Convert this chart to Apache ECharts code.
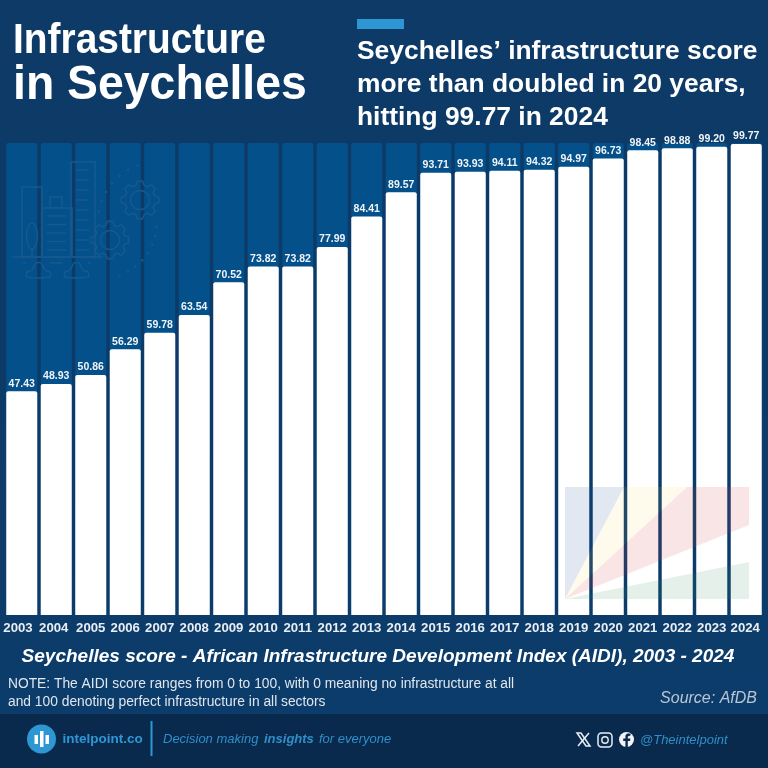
<!DOCTYPE html>
<html>
<head>
<meta charset="utf-8">
<style>html,body{margin:0;padding:0;background:#0d3a66}#chart{width:768px;height:768px}</style>
<script src="https://cdn.jsdelivr.net/npm/echarts@6/dist/echarts.min.js"></script>
</head>
<body>
<div id="chart"></div>
<script>
var years = ['2003','2004','2005','2006','2007','2008','2009','2010','2011','2012','2013','2014','2015','2016','2017','2018','2019','2020','2021','2022','2023','2024'];
var scores = [47.43,48.93,50.86,56.29,59.78,63.54,70.52,73.82,73.82,77.99,84.41,89.57,93.71,93.93,94.11,94.32,94.97,96.73,98.45,98.88,99.20,99.77];
var FONT = '"Liberation Sans", Arial, sans-serif';
var iconColor = '#16598f';
var myChart = echarts.init(document.getElementById('chart'), null, {renderer: 'canvas'});

function txt(x, y, s, size, weight, color, extra) {
  var st = {text: s, x: 0, y: 0, fontFamily: FONT, fontSize: size, fontWeight: weight, fill: color, textVerticalAlign: 'middle'};
  var el = {type: 'text', x: x, y: y, z: 20, style: st};
  extra = extra || {};
  if (extra.italic) st.fontStyle = 'italic';
  if (extra.align) st.textAlign = extra.align;
  if (extra.scaleX) el.scaleX = extra.scaleX;
  return el;
}
function poly(points, fill, op) {
  return {type: 'polygon', z: 10, shape: {points: points}, style: {fill: fill, opacity: op}};
}
function line(x1, y1, x2, y2) {
  return {type: 'line', z: 5, shape: {x1: x1, y1: y1, x2: x2, y2: y2}, style: {stroke: iconColor, lineWidth: 1.5}};
}
function box(x, y, w, h) {
  return {type: 'rect', z: 5, shape: {x: x, y: y, width: w, height: h}, style: {fill: 'none', stroke: iconColor, lineWidth: 1.5}};
}
function car(x) {
  return {type: 'polygon', z: 5, shape: {points: [[x,277],[x,272],[x+5,270],[x+9,263],[x+14,263],[x+18,270],[x+23,272],[x+23,277]], smooth: 0.3}, style: {fill: 'none', stroke: iconColor, lineWidth: 1.5}};
}
function gear(cx, cy, r) {
  var pts = [];
  for (var i = 0; i < 8; i++) {
    var a = i * Math.PI / 4;
    [-0.28, -0.14, 0.14, 0.28].forEach(function (d, k) {
      var rr = (k === 0 || k === 3) ? r * 0.8 : r;
      pts.push([cx + rr * Math.cos(a + d), cy + rr * Math.sin(a + d)]);
    });
  }
  return [
    {type: 'polygon', z: 5, shape: {points: pts}, style: {fill: 'none', stroke: iconColor, lineWidth: 1.5}},
    {type: 'circle', z: 5, shape: {cx: cx, cy: cy, r: r * 0.5}, style: {fill: 'none', stroke: iconColor, lineWidth: 1.5}}
  ];
}
function dots(cx, cy, r, from, to, n) {
  var out = [];
  for (var i = 0; i <= n; i++) {
    var a = (from + (to - from) * i / n) * Math.PI / 180;
    out.push({type: 'circle', z: 5, shape: {cx: cx + r * Math.cos(a), cy: cy + r * Math.sin(a), r: 1.3}, style: {fill: iconColor}});
  }
  return out;
}

// faint city icon behind the tall part of the bars
var icon = [
  box(22, 187, 20, 70), box(42, 208, 30, 49), box(50, 197, 12, 11), box(71, 162, 24, 95),
  line(12, 257, 103, 257),
  {type: 'ellipse', z: 5, shape: {cx: 32, cy: 236, rx: 5.5, ry: 13}, style: {fill: 'none', stroke: iconColor, lineWidth: 1.5}},
  line(32, 249, 32, 257),
  car(27), car(65), line(50, 263, 63, 263), line(23, 263, 26, 263), line(88, 263, 91, 263)
];
[0,1,2,3,4,5,6,7,8].forEach(function (i) { icon.push(line(76, 170 + i * 10, 89, 170 + i * 10)); });
[0,1,2,3,4].forEach(function (i) { icon.push(line(47, 216 + i * 8.5, 66, 216 + i * 8.5)); });
icon = icon.concat(gear(140, 200, 19), gear(110, 240, 19), dots(158, 222, 60, -110, -170, 6), dots(100, 222, 57, 5, 70, 7));

// flag watermark on the last bars
var flag = [
  poly([[565,599],[565,487],[624,487]], '#1f4f8f', 0.13),
  poly([[565,599],[624,487],[687,487]], '#f7d54a', 0.10),
  poly([[565,599],[687,487],[749,487],[749,525]], '#d8383a', 0.13),
  poly([[565,599],[749,562],[749,599]], '#2f8a56', 0.13)
];

var header = [
  txt(13, 41, 'Infrastructure', 42.5, 'bold', '#fff', {scaleX: 0.915}),
  txt(13, 86, 'in Seychelles', 48, 'bold', '#fff', {scaleX: 0.966}),
  {type: 'rect', z: 20, shape: {x: 357, y: 19, width: 47, height: 10}, style: {fill: '#2e97d3'}},
  txt(357, 52, 'Seychelles\u2019 infrastructure score', 25.5, 'bold', '#fff', {scaleX: 1.035}),
  txt(357, 85, 'more than doubled in 20 years,', 25.5, 'bold', '#fff', {scaleX: 1.035}),
  txt(357, 118, 'hitting 99.77 in 2024', 25.5, 'bold', '#fff', {scaleX: 1.035})
];

var bottom = [
  txt(378, 657, 'Seychelles score - African Infrastructure Development Index (AIDI), 2003 - 2024', 19, 'bold', '#fff', {italic: true, align: 'center'}),
  txt(8, 684, 'NOTE: The AIDI score ranges from 0 to 100, with 0 meaning no infrastructure at all', 13.8, 'normal', '#dfe6ee'),
  txt(8, 702, 'and 100 denoting perfect infrastructure in all sectors', 13.8, 'normal', '#dfe6ee'),
  txt(757, 699, 'Source: AfDB', 16, 'normal', '#b9c6d4', {italic: true, align: 'right'}),
  {type: 'rect', z: 15, shape: {x: 0, y: 714, width: 768, height: 54}, style: {fill: '#0a2a4d'}},
  {type: 'circle', z: 20, shape: {cx: 41.5, cy: 739, r: 14.5}, style: {fill: '#2e97d3'}},
  {type: 'rect', z: 21, shape: {x: 34.5, y: 735, width: 3.5, height: 9}, style: {fill: '#fff'}},
  {type: 'rect', z: 21, shape: {x: 40, y: 731, width: 3.5, height: 16}, style: {fill: '#fff'}},
  {type: 'rect', z: 21, shape: {x: 45.5, y: 735, width: 3.5, height: 9}, style: {fill: '#fff'}},
  txt(62.5, 739, 'intelpoint.co', 13.5, 'bold', '#2e97d3'),
  {type: 'rect', z: 20, shape: {x: 150.5, y: 721, width: 2, height: 35}, style: {fill: '#2e97d3'}},
  txt(163, 739, 'Decision making ', 13, 'normal', '#2e8fc9', {italic: true}),
  txt(264, 739, 'insights', 13, 'bold', '#2e8fc9', {italic: true}),
  txt(319, 739, 'for everyone', 13, 'normal', '#2e8fc9', {italic: true}),
  // social icons
  {type: 'polygon', z: 20, shape: {points: [[577,733],[581,733],[590,746],[586,746]]}, style: {fill: 'none', stroke: '#e8eef5', lineWidth: 1.5}},
  {type: 'line', z: 20, shape: {x1: 589, y1: 733, x2: 578, y2: 746}, style: {stroke: '#e8eef5', lineWidth: 1.5}},
  {type: 'rect', z: 20, shape: {x: 598, y: 733, width: 14, height: 14, r: 3.5}, style: {fill: 'none', stroke: '#e8eef5', lineWidth: 1.5}},
  {type: 'circle', z: 20, shape: {cx: 605, cy: 740, r: 3.2}, style: {fill: 'none', stroke: '#e8eef5', lineWidth: 1.4}},
  {type: 'circle', z: 20, shape: {cx: 626.5, cy: 739.5, r: 7.5}, style: {fill: '#f2f5f8'}},
  {type: 'polygon', z: 21, shape: {points: [[627.8,747],[627.8,741],[630,741],[630.4,738.5],[627.8,738.5],[627.8,736.6],[630.5,735.6],[630.5,733.4],[627,733.4],[625.4,735.6],[625.4,738.5],[623.2,738.5],[623.2,741],[625.4,741],[625.4,747]]}, style: {fill: '#0a2a4d'}},
  txt(640, 740, '@Theintelpoint', 13, 'normal', '#2e8fc9', {italic: true})
];

// the first labels and the last one sit slightly left of their bars
var shifted = {'2003': 7.5, '2004': 5, '2024': 2};
var yearItems = years.map(function (y) {
  return shifted[y] ? {value: y, textStyle: {padding: [0, shifted[y], 0, 0]}} : y;
});

var option = {
  animation: false,
  backgroundColor: new echarts.graphic.LinearGradient(0, 0, 0, 1, [
    {offset: 0, color: '#0d3a66'},
    {offset: 1, color: '#0c3c6b'}
  ]),
  grid: {left: 4.5, right: 4.5, top: 143, bottom: 153, containLabel: false},
  xAxis: {
    type: 'category',
    data: yearItems,
    axisTick: {show: false},
    axisLine: {show: false},
    axisLabel: {color: '#e8eef4', fontFamily: FONT, fontSize: 13.2, fontWeight: 'bold', margin: 7, interval: 0, hideOverlap: false}
  },
  yAxis: {type: 'value', min: 0, max: 100, show: false, splitLine: {show: false}},
  series: [{
    type: 'bar',
    data: scores,
    barWidth: 31,
    showBackground: true,
    backgroundStyle: {color: '#04508a', borderRadius: [2, 2, 0, 0]},
    itemStyle: {color: '#ffffff', borderRadius: [2, 2, 0, 0]},
    label: {
      show: true,
      position: 'top',
      distance: 2,
      color: '#f0f4f8',
      fontFamily: FONT,
      fontSize: 10.5,
      fontWeight: 'bold',
      formatter: function (p) { return p.value.toFixed(2); }
    }
  }],
  graphic: {elements: icon.concat(flag, header, bottom)}
};
myChart.setOption(option);
</script>
</body>
</html>
